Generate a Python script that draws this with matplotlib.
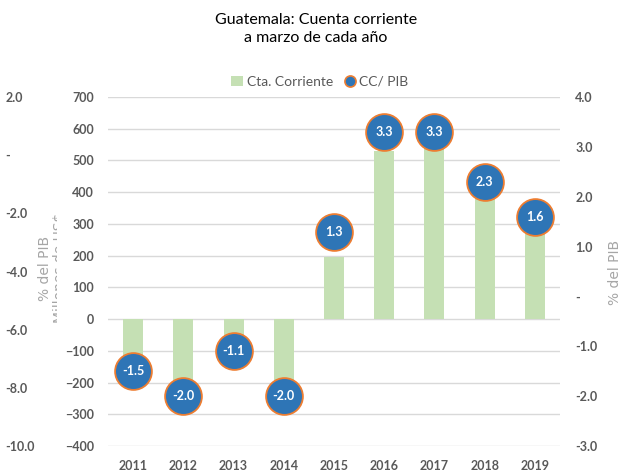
import matplotlib
matplotlib.use("Agg")
import matplotlib.pyplot as plt
from matplotlib.lines import Line2D
from matplotlib.patches import Patch
from matplotlib.ticker import FuncFormatter
from matplotlib.transforms import Bbox

years = ["2011", "2012", "2013", "2014", "2015", "2016", "2017", "2018", "2019"]
cta_corriente = [-150, -240, -100, -240, 195, 530, 560, 400, 300]
cc_pib = [-1.5, -2.0, -1.1, -2.0, 1.3, 3.3, 3.3, 2.3, 1.6]

W, H = 626, 471
fig = plt.figure(figsize=(W / 100, H / 100), dpi=100)
L, R, T, B = 108, 560, 97, 446
ax = fig.add_axes([L / W, 1 - B / H, (R - L) / W, (B - T) / H])

font = "Lato"
tick_color = "#595959"
tfs = 9

x = list(range(len(years)))
ax.bar(x, cta_corriente, width=0.4, color="#c5e0b4", zorder=2)
ax.set_xlim(-0.5, len(years) - 0.5)
ax.set_ylim(-400, 700)
ax.set_yticks(range(-400, 701, 100))
ax.grid(axis="y", color="#d9d9d9", linewidth=1.0, zorder=0)
ax.set_axisbelow(True)
for s in ax.spines.values():
    s.set_visible(False)
ax.tick_params(axis="both", length=0)
ax.tick_params(axis="y", pad=10)
ax.tick_params(axis="x", pad=10)
ax.set_xticks(x)
ax.set_xticklabels(years)
for lab in ax.get_xticklabels() + ax.get_yticklabels():
    lab.set_fontfamily(font)
    lab.set_fontweight("bold")
    lab.set_fontsize(tfs)
    lab.set_color(tick_color)

def dash_fmt(v, pos):
    if abs(v) < 1e-9:
        return "-"
    return f"{v:.1f}"

# right axis
ax2 = ax.twinx()
ax2.set_ylim(-3, 4)
ax2.set_yticks(range(-3, 5))
ax2.yaxis.set_major_formatter(FuncFormatter(dash_fmt))
ax2.plot(x, cc_pib, linestyle="none", marker="o", markersize=26.5,
         markerfacecolor="#2e75b6", markeredgecolor="#ed7d31",
         markeredgewidth=1.3, zorder=3)
for xi, v in zip(x, cc_pib):
    ax2.text(xi, v, f"{v:.1f}", ha="center", va="center", color="white",
             fontsize=9, fontweight="bold", fontfamily=font, zorder=4)
for s in ax2.spines.values():
    s.set_visible(False)
ax2.tick_params(axis="y", length=0, pad=11)
for lab in ax2.get_yticklabels():
    lab.set_fontfamily(font)
    lab.set_fontweight("bold")
    lab.set_fontsize(tfs)
    lab.set_color(tick_color)

# phantom far-left axis
ax3 = ax.twinx()
ax3.set_ylim(-10, 2)
ax3.set_yticks(range(-10, 3, 2))
ax3.yaxis.tick_left()
ax3.yaxis.set_major_formatter(FuncFormatter(dash_fmt))
for s in ax3.spines.values():
    s.set_visible(False)
ax3.tick_params(axis="y", length=0, pad=74)
for lab in ax3.get_yticklabels():
    lab.set_fontfamily(font)
    lab.set_fontweight("bold")
    lab.set_fontsize(tfs)
    lab.set_color(tick_color)
    lab.set_horizontalalignment("left")

# axis titles
label_color = "#a6a6a6"
fig.text(45 / W, 1 - 268 / H, "% del PIB", rotation=90, ha="center", va="center",
         fontsize=10, color=label_color, fontfamily="DejaVu Sans")
mil = fig.text(60 / W, 1 - 268 / H, "Millones de US$", rotation=90, ha="center",
               va="center", fontsize=10, color=label_color, fontfamily="DejaVu Sans")
mil.set_clip_box(Bbox.from_extents(0, 0, 57, H))
mil.set_clip_on(True)
fig.text(615 / W, 1 - 272 / H, "% del PIB", rotation=90, ha="center", va="center",
         fontsize=10, color=label_color, fontfamily="DejaVu Sans")

# title
fig.text(316 / W, 1 - 29 / H, "Guatemala: Cuenta corriente\na marzo de cada año",
         ha="center", va="center", fontsize=11.5, color="#000000",
         fontfamily=font, linespacing=1.3)

# legend
handles = [
    Patch(facecolor="#c5e0b4", edgecolor="none", label="Cta. Corriente"),
    Line2D([0], [0], linestyle="none", marker="o", markersize=8,
           markerfacecolor="#2e75b6", markeredgecolor="#ed7d31",
           markeredgewidth=1.2, label="CC/ PIB"),
]
leg = fig.legend(handles=handles, loc="center", bbox_to_anchor=(320 / W, 1 - 82 / H),
                 ncol=2, frameon=False, handlelength=0.8, handletextpad=0.3,
                 columnspacing=0.8, prop={"family": font, "size": 10})
for t in leg.get_texts():
    t.set_color(tick_color)

fig.savefig("out.png", dpi=100)
